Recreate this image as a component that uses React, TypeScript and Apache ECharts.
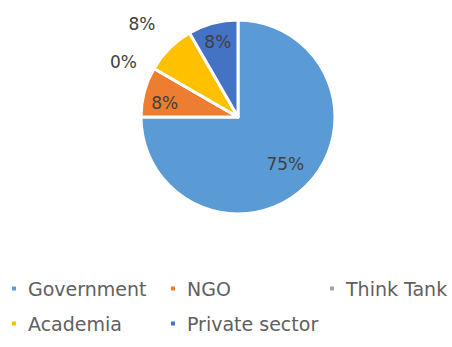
import React, { useEffect, useRef } from "react";
import * as echarts from "echarts";

const categories = ["Government", "NGO", "Think Tank", "Academia", "Private sector"];
const values = [9, 1, 0, 1, 1];
const colors = ["#5B9BD5", "#ED7D31", "#A5A5A5", "#FFC000", "#4472C4"];
const outsideLabels = ["Think Tank", "Academia"];
const legendRows = [
  { name: "Government", left: 10, top: 279 },
  { name: "NGO", left: 169, top: 279 },
  { name: "Think Tank", left: 328, top: 279 },
  { name: "Academia", left: 10, top: 314 },
  { name: "Private sector", left: 169, top: 314 },
];

const FONT = "DejaVu Sans";

export default function App() {
  const ref = useRef<HTMLDivElement>(null);
  useEffect(() => {
    if (!ref.current) return;
    const chart = echarts.init(ref.current, undefined, { renderer: "svg" });
    const center = [238, 117];
    const R = 97;
    const data = categories.map((c, i) => ({
      name: c,
      value: values[i],
      itemStyle: { color: colors[i] },
    }));
    const labelStyle = {
      fontFamily: FONT,
      fontSize: 17,
      color: "#404040",
      formatter: (p: any) => Math.round(p.percent) + "%",
    };
    chart.setOption({
      animation: false,
      backgroundColor: "#fff",
      legend: legendRows.map((l) => ({
        data: [l.name],
        left: l.left,
        top: l.top,
        padding: 0,
        icon: "rect",
        itemWidth: 6,
        itemHeight: 6,
        selectedMode: false,
        textStyle: {
          fontFamily: FONT,
          fontSize: 19,
          color: "#606060",
          padding: [0, 0, 0, 6],
        },
      })),
      series: [
        {
          type: "pie",
          center,
          radius: [0, R],
          startAngle: 90,
          clockwise: true,
          avoidLabelOverlap: false,
          stillShowZeroSum: true,
          minShowLabelAngle: -1,
          data: data.map((d) => ({
            ...d,
            label: { show: outsideLabels.includes(d.name) },
            labelLine: { show: false, length: d.name === "Academia" ? 34 : 14, length2: 0 },
          })),
          itemStyle: { borderColor: "#fff", borderWidth: 3 },
          label: { ...labelStyle, position: "outside" },
          labelLine: { show: false, length: 14, length2: 0 },
          labelLayout: (p: any) => (p.dataIndex === 3 ? { dx: 15 } : {}),
        },
        {
          type: "pie",
          center,
          radius: [31, R],
          startAngle: 90,
          clockwise: true,
          silent: true,
          avoidLabelOverlap: false,
          legendHoverLink: false,
          data: data.map((d) => ({
            ...d,
            itemStyle: { color: "transparent", borderWidth: 0 },
            label: { show: d.name === "Government" },
          })),
          label: { ...labelStyle, position: "inside" },
          labelLine: { show: false },
        },
        {
          type: "pie",
          center,
          radius: [53, R],
          startAngle: 90,
          clockwise: true,
          silent: true,
          avoidLabelOverlap: false,
          legendHoverLink: false,
          data: data.map((d) => ({
            ...d,
            itemStyle: { color: "transparent", borderWidth: 0 },
            label: { show: d.name === "NGO" || d.name === "Private sector" },
          })),
          label: { ...labelStyle, position: "inside" },
          labelLine: { show: false },
          labelLayout: (p: any) => (p.dataIndex === 1 ? { dx: 2, dy: 6 } : {}),
        },
      ],
    });
    return () => chart.dispose();
  }, []);
  return (
    <div
      ref={ref}
      style={{ position: "fixed", left: 0, top: 0, width: 452, height: 347 }}
    />
  );
}
